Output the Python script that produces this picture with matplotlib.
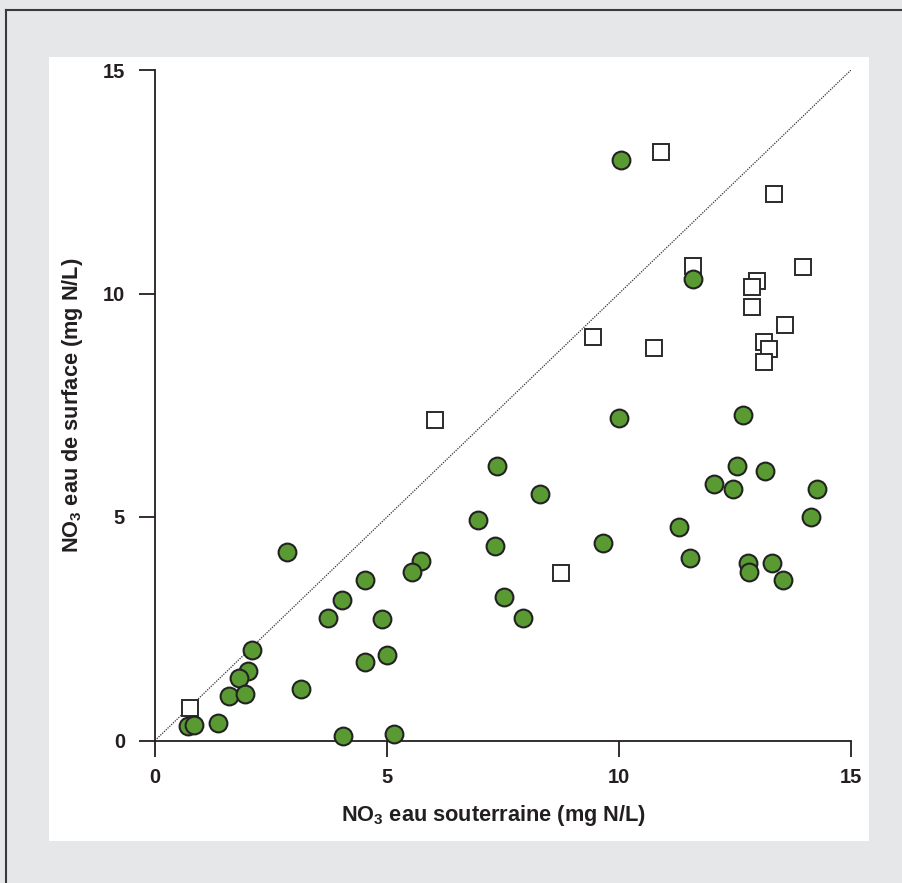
import matplotlib
matplotlib.use("Agg")
import matplotlib.pyplot as plt
from matplotlib.patches import Rectangle
from matplotlib.lines import Line2D

plt.rcParams['font.family'] = ['Liberation Sans', 'DejaVu Sans']
plt.rcParams['mathtext.fontset'] = 'custom'
plt.rcParams['mathtext.rm'] = 'Liberation Sans'
plt.rcParams['mathtext.bf'] = 'Liberation Sans:bold'

# Green circles
circ_x = [10.05, 11.6, 10.0, 12.67, 7.37, 12.54, 13.15, 12.05, 12.46, 14.27,
          8.30, 14.14, 6.96, 11.29, 2.84, 9.66, 7.33, 11.53, 5.73, 5.54,
          12.77, 13.30, 12.81, 4.53, 13.53, 7.52, 4.02, 3.72, 4.90, 7.93,
          2.08, 5.01, 4.52, 2.01, 1.82, 3.15, 1.59, 1.93, 1.36, 0.72,
          0.83, 4.06, 5.16]
circ_y = [12.99, 10.32, 7.21, 7.29, 6.14, 6.14, 6.02, 5.74, 5.63, 5.63,
          5.51, 4.99, 4.93, 4.77, 4.21, 4.41, 4.36, 4.09, 4.01, 3.78,
          3.96, 3.97, 3.76, 3.59, 3.58, 3.22, 3.14, 2.74, 2.71, 2.74,
          2.03, 1.91, 1.76, 1.56, 1.40, 1.16, 1.00, 1.05, 0.39, 0.33,
          0.35, 0.10, 0.15]

# Open squares
sq_x = [10.91, 13.35, 11.60, 13.96, 12.97, 12.86, 12.86, 13.58, 13.12, 13.24,
        13.12, 9.43, 10.76, 6.03, 8.75, 0.75]
sq_y = [13.17, 12.23, 10.62, 10.60, 10.29, 10.14, 9.70, 9.30, 8.91, 8.75,
        8.47, 9.03, 8.79, 7.17, 3.75, 0.73]

ticks = [0, 5, 10, 15]
tick_labels = ['0', '5', '10', '15']

W, H = 902, 883
fig = plt.figure(figsize=(W / 100, H / 100), dpi=100)
fig.patch.set_facecolor('#e6e7e8')

# white panel
fig.patches.append(Rectangle((49 / W, (H - 841) / H), 820 / W, 784 / H,
                             transform=fig.transFigure, facecolor='white',
                             edgecolor='none', zorder=-5))
# frame lines (left and top)
fig.lines.append(Line2D([6 / W, 6 / W], [0, (H - 10) / H], transform=fig.transFigure,
                        color='#3a3a3a', lw=1.5, zorder=-4))
fig.lines.append(Line2D([6 / W, 1], [(H - 10) / H, (H - 10) / H], transform=fig.transFigure,
                        color='#3a3a3a', lw=1.5, zorder=-4))

ax = fig.add_axes([155 / W, (H - 740.5) / H, 696 / W, 670.5 / H])
ax.set_zorder(2)
ax.set_facecolor('none')
ax.set_xlim(0, 15)
ax.set_ylim(0, 15)

ax.plot([0, 15], [0, 15], linestyle=(0, (1, 1.0)), color='#333333', lw=0.9, zorder=1)

ax.plot(sq_x, sq_y, linestyle='none', marker='s', markersize=11.8,
        markerfacecolor='white', markeredgecolor='#2a2a2a', markeredgewidth=1.4,
        clip_on=False, zorder=2)
ax.plot(circ_x, circ_y, linestyle='none', marker='o', markersize=12.8,
        markerfacecolor='#5a9a32', markeredgecolor='#222222', markeredgewidth=1.5,
        clip_on=False, zorder=3)

for s in ['top', 'right']:
    ax.spines[s].set_visible(False)
for s in ['left', 'bottom']:
    ax.spines[s].set_linewidth(1.3)
    ax.spines[s].set_color('#231f20')

ax.set_xticks(ticks)
ax.set_xticklabels(tick_labels)
ax.set_yticks(ticks)
ax.set_yticklabels(tick_labels)
ax.tick_params(axis='both', direction='out', length=11.5, width=1.3, color='#231f20',
               labelsize=14.5, labelcolor='#231f20')
ax.tick_params(axis='x', pad=8)
ax.tick_params(axis='y', pad=10)
for lab in ax.get_xticklabels() + ax.get_yticklabels():
    lab.set_fontweight('bold')

fig.text(494 / W, (H - 816) / H, r'NO$_\mathbf{3}$ eau souterraine (mg N/L)',
         ha='center', va='center', fontsize=15.7, fontweight='bold', color='#231f20')
fig.text(73 / W, (H - 405) / H, r'NO$_\mathbf{3}$ eau de surface (mg N/L)',
         ha='center', va='center', rotation=90, fontsize=15.7, fontweight='bold',
         color='#231f20')

fig.savefig('out.png', dpi=100, facecolor=fig.get_facecolor())
